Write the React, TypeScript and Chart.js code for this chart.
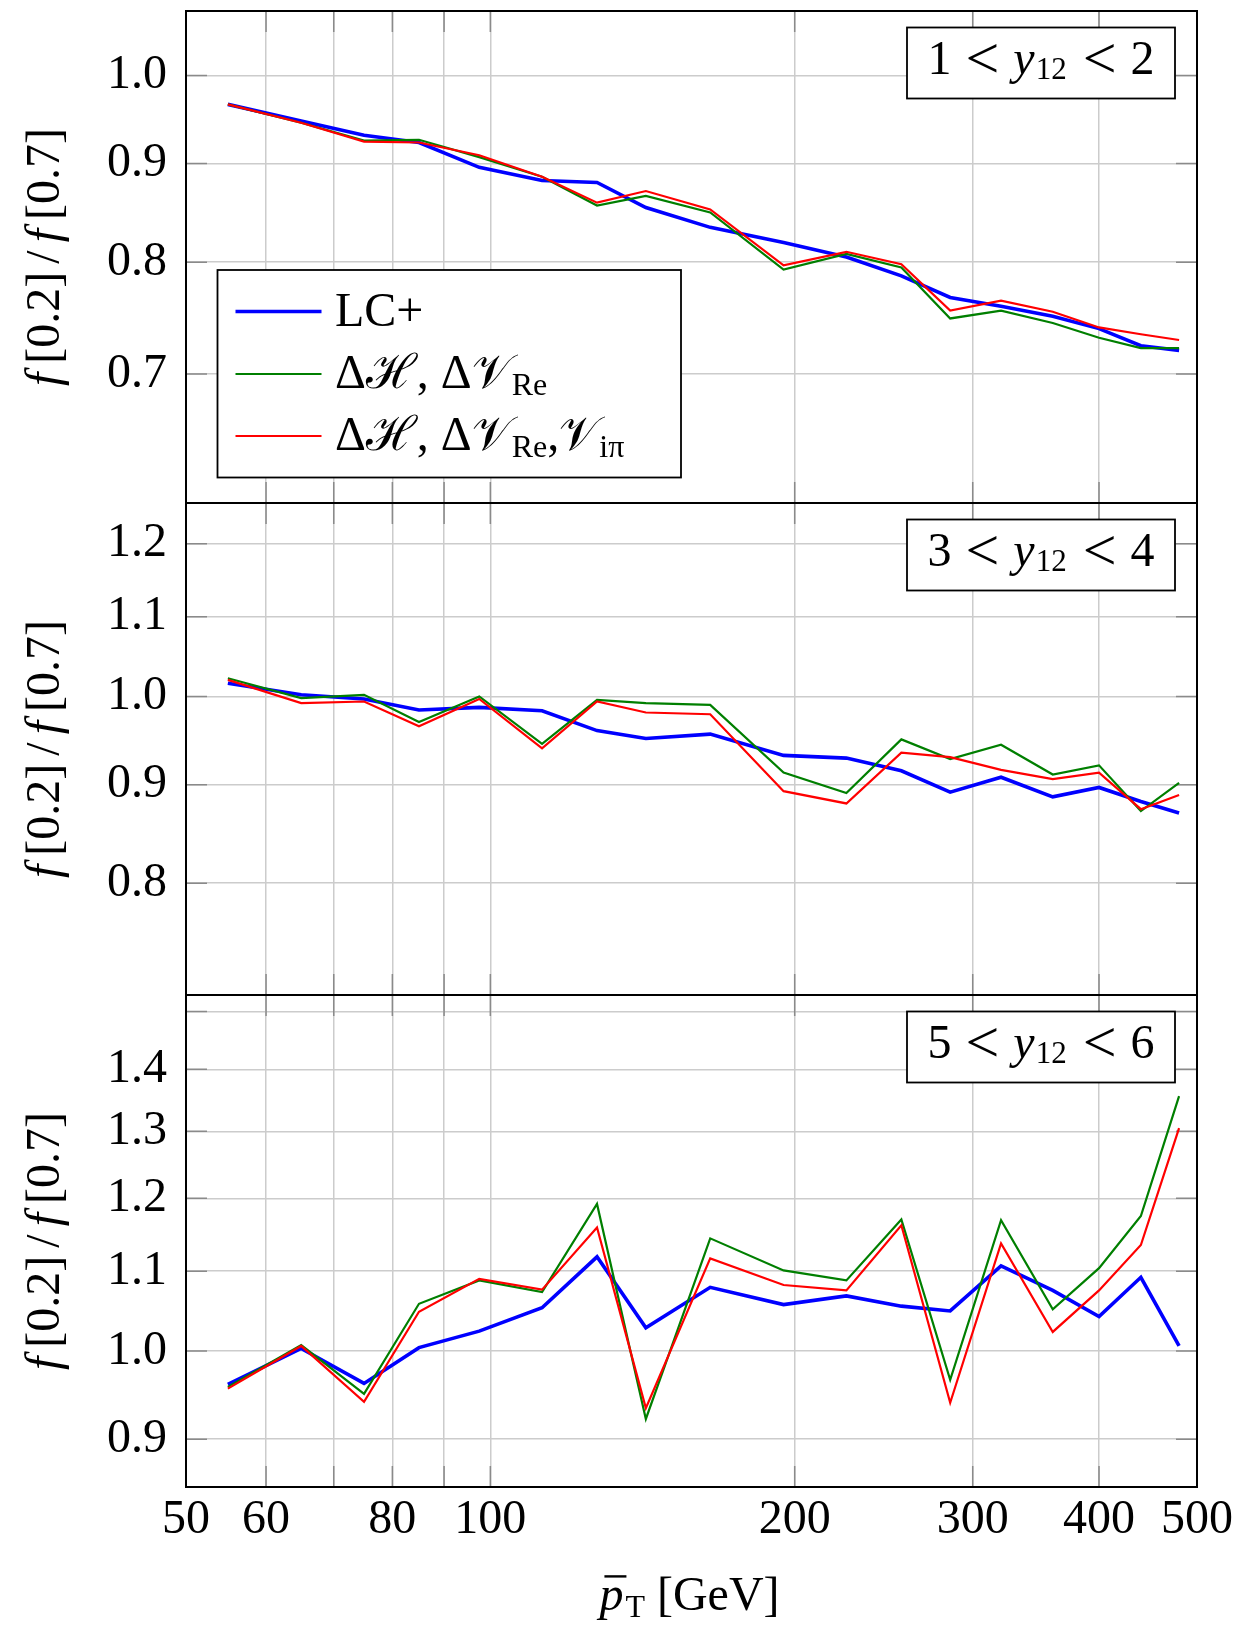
import React, { useEffect, useRef } from 'react';
import { Chart, registerables } from 'chart.js';

Chart.register(...registerables);

// ---------- data ----------
const PT_BAR = [55, 65, 75, 85, 97.5, 112.5, 127.5, 142.5, 165, 195, 225, 255, 285, 320, 360, 400, 440, 480];

// panel 1: 1 < y12 < 2
const LC_P1 = [0.966, 0.947, 0.931, 0.923, 0.896, 0.882, 0.880, 0.854, 0.834, 0.819, 0.805, 0.787, 0.767, 0.759, 0.750, 0.739, 0.724, 0.720];
const DH_P1 = [0.966, 0.945, 0.925, 0.926, 0.907, 0.886, 0.856, 0.866, 0.849, 0.793, 0.808, 0.795, 0.748, 0.755, 0.744, 0.731, 0.722, 0.722];
const DHI_P1 = [0.966, 0.945, 0.924, 0.923, 0.909, 0.886, 0.859, 0.871, 0.852, 0.797, 0.810, 0.798, 0.755, 0.764, 0.754, 0.740, 0.734, 0.729];

// panel 2: 3 < y12 < 4
const LC_P2 = [1.016, 1.002, 0.997, 0.984, 0.987, 0.983, 0.960, 0.951, 0.956, 0.932, 0.929, 0.915, 0.892, 0.908, 0.887, 0.897, 0.882, 0.870];
const DH_P2 = [1.022, 0.998, 1.002, 0.970, 1.000, 0.945, 0.996, 0.992, 0.990, 0.913, 0.891, 0.950, 0.928, 0.944, 0.911, 0.921, 0.872, 0.902];
const DHI_P2 = [1.020, 0.992, 0.994, 0.965, 0.997, 0.940, 0.994, 0.981, 0.979, 0.893, 0.880, 0.935, 0.930, 0.916, 0.906, 0.913, 0.874, 0.889];

// panel 3: 5 < y12 < 6
const LC_P3 = [0.961, 1.003, 0.962, 1.004, 1.024, 1.053, 1.119, 1.028, 1.079, 1.057, 1.068, 1.055, 1.049, 1.107, 1.075, 1.042, 1.092, 1.006];
const DH_P3 = [0.958, 1.007, 0.950, 1.058, 1.088, 1.073, 1.192, 0.922, 1.144, 1.101, 1.088, 1.170, 0.966, 1.169, 1.051, 1.104, 1.175, 1.356];
const DHI_P3 = [0.956, 1.006, 0.941, 1.048, 1.090, 1.076, 1.159, 0.934, 1.117, 1.082, 1.075, 1.162, 0.940, 1.137, 1.023, 1.075, 1.135, 1.305];

const X_TICKS = [50, 60, 70, 80, 90, 100, 200, 300, 400, 500];
const X_TICK_LABELS = ['50', '60', '', '80', '', '100', '200', '300', '400', '500'];

const P1_RANGE = [0.6, 1.08];
const P2_RANGE = [0.7, 1.26];
const P3_RANGE = [0.85, 1.53];
const P1_TICKS = [0.7, 0.8, 0.9, 1.0];
const P1_LABELS = ['0.7', '0.8', '0.9', '1.0'];
const P2_TICKS = [0.8, 0.9, 1.0, 1.1, 1.2];
const P2_LABELS = ['0.8', '0.9', '1.0', '1.1', '1.2'];
const P3_TICKS = [0.9, 1.0, 1.1, 1.2, 1.3, 1.4, 1.5];
const P3_LABELS = ['0.9', '1.0', '1.1', '1.2', '1.3', '1.4', ''];

const PANEL_RAPIDITY = [['1', '2'], ['3', '4'], ['5', '6']];

type Piece = { t: string; it?: boolean; sub?: boolean; gap?: number; bar?: boolean; size?: number; dy?: number };

const LEGEND_LABELS: Piece[][] = [
  [{ t: 'LC+' }],
  [{ t: 'Δ' }, { t: 'ℋ' }, { t: ', ' }, { t: 'Δ' }, { t: '𝒱' }, { t: 'Re', sub: true }],
  [{ t: 'Δ' }, { t: 'ℋ' }, { t: ', ' }, { t: 'Δ' }, { t: '𝒱' }, { t: 'Re', sub: true }, { t: ',' }, { t: '𝒱' }, { t: 'iπ', sub: true }],
];
const Y_TITLE: Piece[] = [
  { t: 'f', it: true, gap: 9 }, { t: '[0.2]', gap: 8 }, { t: '/', gap: 8 }, { t: 'f', it: true, gap: 9 }, { t: '[0.7]' },
];
const X_TITLE: Piece[] = [{ t: 'p', it: true, bar: true, gap: 2 }, { t: 'T', sub: true }, { t: ' [GeV]' }];

const SERIES = [
  { color: '#0000ff', width: 3.6, order: 3, panels: [LC_P1, LC_P2, LC_P3] },
  { color: '#007f00', width: 2.2, order: 2, panels: [DH_P1, DH_P2, DH_P3] },
  { color: '#ff0000', width: 2.2, order: 1, panels: [DHI_P1, DHI_P2, DHI_P3] },
];

// ---------- drawing helpers ----------
const SERIF = "'Liberation Serif', 'DejaVu Serif', serif";
const FS = 48;

function fontFor(p: Piece, size: number) {
  const s = p.size ? p.size : p.sub ? Math.round(size * 0.66) : size;
  return `${p.it ? 'italic ' : ''}${s}px ${SERIF}`;
}
function measurePieces(ctx: CanvasRenderingContext2D, pieces: Piece[], size: number) {
  let w = 0;
  for (const p of pieces) {
    ctx.font = fontFor(p, size);
    w += ctx.measureText(p.t).width + (p.gap || 0);
  }
  return w;
}
function drawPieces(ctx: CanvasRenderingContext2D, pieces: Piece[], x: number, y: number, size: number) {
  for (const p of pieces) {
    ctx.font = fontFor(p, size);
    const w = ctx.measureText(p.t).width;
    const dy = p.dy !== undefined ? p.dy : p.sub ? size * 0.15 : 0;
    ctx.fillText(p.t, x, y + dy);
    if (p.bar) {
      ctx.save();
      ctx.lineWidth = 2.4;
      ctx.strokeStyle = '#000';
      ctx.beginPath();
      ctx.moveTo(x + 5, y - size * 0.7);
      ctx.lineTo(x + w + 3, y - size * 0.7);
      ctx.stroke();
      ctx.restore();
    }
    x += w + (p.gap || 0);
  }
  return x;
}

const decor = {
  id: 'decor',
  beforeDatasetsDraw(chart: any) {
    const { ctx, chartArea: ca, scales } = chart;
    const xs = scales.x;
    const panels: [any, number[]][] = [[scales.y1, P1_TICKS], [scales.y2, P2_TICKS], [scales.y3, P3_TICKS]];
    ctx.save();
    ctx.strokeStyle = '#8a8a8a';
    ctx.lineWidth = 1.5;
    ctx.beginPath();
    const TL = 21;
    for (const [ys, ticks] of panels) {
      for (const v of X_TICKS) {
        const px = xs.getPixelForValue(v);
        if (px <= ca.left + 1 || px >= ca.right - 1) continue;
        ctx.moveTo(px, ys.top);
        ctx.lineTo(px, ys.top + TL);
        ctx.moveTo(px, ys.bottom - TL);
        ctx.lineTo(px, ys.bottom);
      }
      for (const v of ticks) {
        const py = ys.getPixelForValue(v);
        ctx.moveTo(ca.left, py);
        ctx.lineTo(ca.left + TL, py);
        ctx.moveTo(ca.right - TL, py);
        ctx.lineTo(ca.right, py);
      }
    }
    ctx.stroke();
    ctx.restore();
  },
  afterDatasetsDraw(chart: any) {
    const { ctx, chartArea: ca, scales } = chart;
    const panelScales = [scales.y1, scales.y2, scales.y3];
    ctx.save();
    // frame
    ctx.strokeStyle = '#000';
    ctx.lineWidth = 2;
    ctx.strokeRect(ca.left, ca.top, ca.right - ca.left, ca.bottom - ca.top);
    ctx.beginPath();
    ctx.moveTo(ca.left, scales.y1.bottom);
    ctx.lineTo(ca.right, scales.y1.bottom);
    ctx.moveTo(ca.left, scales.y2.bottom);
    ctx.lineTo(ca.right, scales.y2.bottom);
    ctx.stroke();

    ctx.fillStyle = '#000';
    ctx.textBaseline = 'alphabetic';
    ctx.textAlign = 'left';

    // rapidity boxes
    panelScales.forEach((ys, i) => {
      const bw = 268, bh = 71;
      const bx = ca.right - 22 - bw;
      const by = ys.top + 16.5;
      ctx.fillStyle = '#fff';
      ctx.fillRect(bx, by, bw, bh);
      ctx.strokeStyle = '#000';
      ctx.lineWidth = 1.8;
      ctx.strokeRect(bx, by, bw, bh);
      ctx.fillStyle = '#000';
      const [a, b] = PANEL_RAPIDITY[i];
      const pieces: Piece[] = [
        { t: a, gap: 14 },
        { t: '<', size: 60, dy: 4, gap: 14 },
        { t: 'y', it: true, gap: 1 },
        { t: '12', size: 31, dy: 5, gap: 16 },
        { t: '<', size: 60, dy: 4, gap: 14 },
        { t: b },
      ];
      const w = measurePieces(ctx, pieces, FS);
      drawPieces(ctx, pieces, bx + bw / 2 - w / 2, by + 46, FS);
    });

    // legend
    const lx = ca.left + 31.5, ly = scales.y1.top + 259, lw = 463.5, lh = 207.5;
    ctx.fillStyle = '#fff';
    ctx.fillRect(lx, ly, lw, lh);
    ctx.strokeStyle = '#000';
    ctx.lineWidth = 1.8;
    ctx.strokeRect(lx, ly, lw, lh);
    const rowY = [41.5, 104, 166];
    SERIES.forEach((s, i) => {
      const y = ly + rowY[i];
      ctx.strokeStyle = s.color;
      ctx.lineWidth = s.width;
      ctx.beginPath();
      ctx.moveTo(lx + 18, y);
      ctx.lineTo(lx + 104, y);
      ctx.stroke();
      ctx.fillStyle = '#000';
      drawPieces(ctx, LEGEND_LABELS[i], lx + 117.5, y + 14, FS);
    });
    ctx.restore();
  },
  afterDraw(chart: any) {
    const { ctx, chartArea: ca, scales } = chart;
    ctx.save();
    ctx.fillStyle = '#000';
    ctx.textBaseline = 'alphabetic';
    ctx.textAlign = 'left';
    // y titles
    for (const ys of [scales.y1, scales.y2, scales.y3]) {
      const cy = (ys.top + ys.bottom) / 2;
      const w = measurePieces(ctx, Y_TITLE, FS);
      ctx.save();
      ctx.translate(59, cy);
      ctx.rotate(-Math.PI / 2);
      drawPieces(ctx, Y_TITLE, -w / 2, 0, FS);
      ctx.restore();
    }
    // x title
    const w = measurePieces(ctx, X_TITLE, FS);
    const cx = (ca.left + ca.right) / 2 - 2;
    drawPieces(ctx, X_TITLE, cx - w / 2, 1610, FS);
    ctx.restore();
  },
};

function yScale(range: number[], ticks: number[], labels: string[], weight: number) {
  return {
    type: 'logarithmic',
    position: 'left',
    stack: 'panels',
    stackWeight: 1,
    weight,
    min: range[0],
    max: range[1],
    grid: { color: '#cccccc', lineWidth: 1.5, drawTicks: false },
    border: { display: false },
    afterBuildTicks: (s: any) => {
      s.ticks = ticks.map((v) => ({ value: v }));
    },
    afterFit: (s: any) => {
      s.width = 186;
      s.paddingTop = 0;
      s.paddingBottom = 0;
    },
    ticks: {
      autoSkip: false,
      padding: 19,
      color: '#000',
      font: { family: SERIF, size: FS },
      callback: (_v: any, i: number) => labels[i] ?? '',
    },
  };
}

export default function App() {
  const ref = useRef<HTMLCanvasElement>(null);
  useEffect(() => {
    const datasets: any[] = [];
    for (let p = 0; p < 3; p++) {
      for (const s of SERIES) {
        datasets.push({
          data: PT_BAR.map((x, i) => ({ x, y: s.panels[p][i] })),
          borderColor: s.color,
          backgroundColor: s.color,
          borderWidth: s.width,
          pointRadius: 0,
          tension: 0,
          fill: false,
          order: s.order,
          xAxisID: 'x',
          yAxisID: `y${p + 1}`,
        });
      }
    }
    const chart = new Chart(ref.current as HTMLCanvasElement, {
      type: 'line',
      data: { datasets },
      options: {
        responsive: false,
        animation: false,
        devicePixelRatio: 1,
        layout: { padding: { left: 0, top: 11, right: 43, bottom: 0 } },
        plugins: { legend: { display: false }, tooltip: { enabled: false } },
        scales: {
          x: {
            type: 'logarithmic',
            position: 'bottom',
            min: 50,
            max: 500,
            grid: { color: '#cccccc', lineWidth: 1.5, drawTicks: false },
            border: { display: false },
            afterBuildTicks: (s: any) => {
              s.ticks = X_TICKS.map((v) => ({ value: v }));
            },
            afterFit: (s: any) => {
              s.height = 138;
              s.paddingLeft = 0;
              s.paddingRight = 0;
            },
            ticks: {
              autoSkip: false,
              maxRotation: 0,
              minRotation: 0,
              padding: 5,
              color: '#000',
              font: { family: SERIF, size: FS },
              callback: (_v: any, i: number) => X_TICK_LABELS[i] ?? '',
            },
          },
          y1: yScale(P1_RANGE, P1_TICKS, P1_LABELS, 3),
          y2: yScale(P2_RANGE, P2_TICKS, P2_LABELS, 2),
          y3: yScale(P3_RANGE, P3_TICKS, P3_LABELS, 1),
        } as any,
      },
      plugins: [decor],
    });
    return () => chart.destroy();
  }, []);
  return (
    <div style={{ position: 'absolute', left: 0, top: 0, width: 1240, height: 1625, background: '#fff' }}>
      <canvas ref={ref} width={1240} height={1625} style={{ width: 1240, height: 1625, display: 'block' }} />
    </div>
  );
}
